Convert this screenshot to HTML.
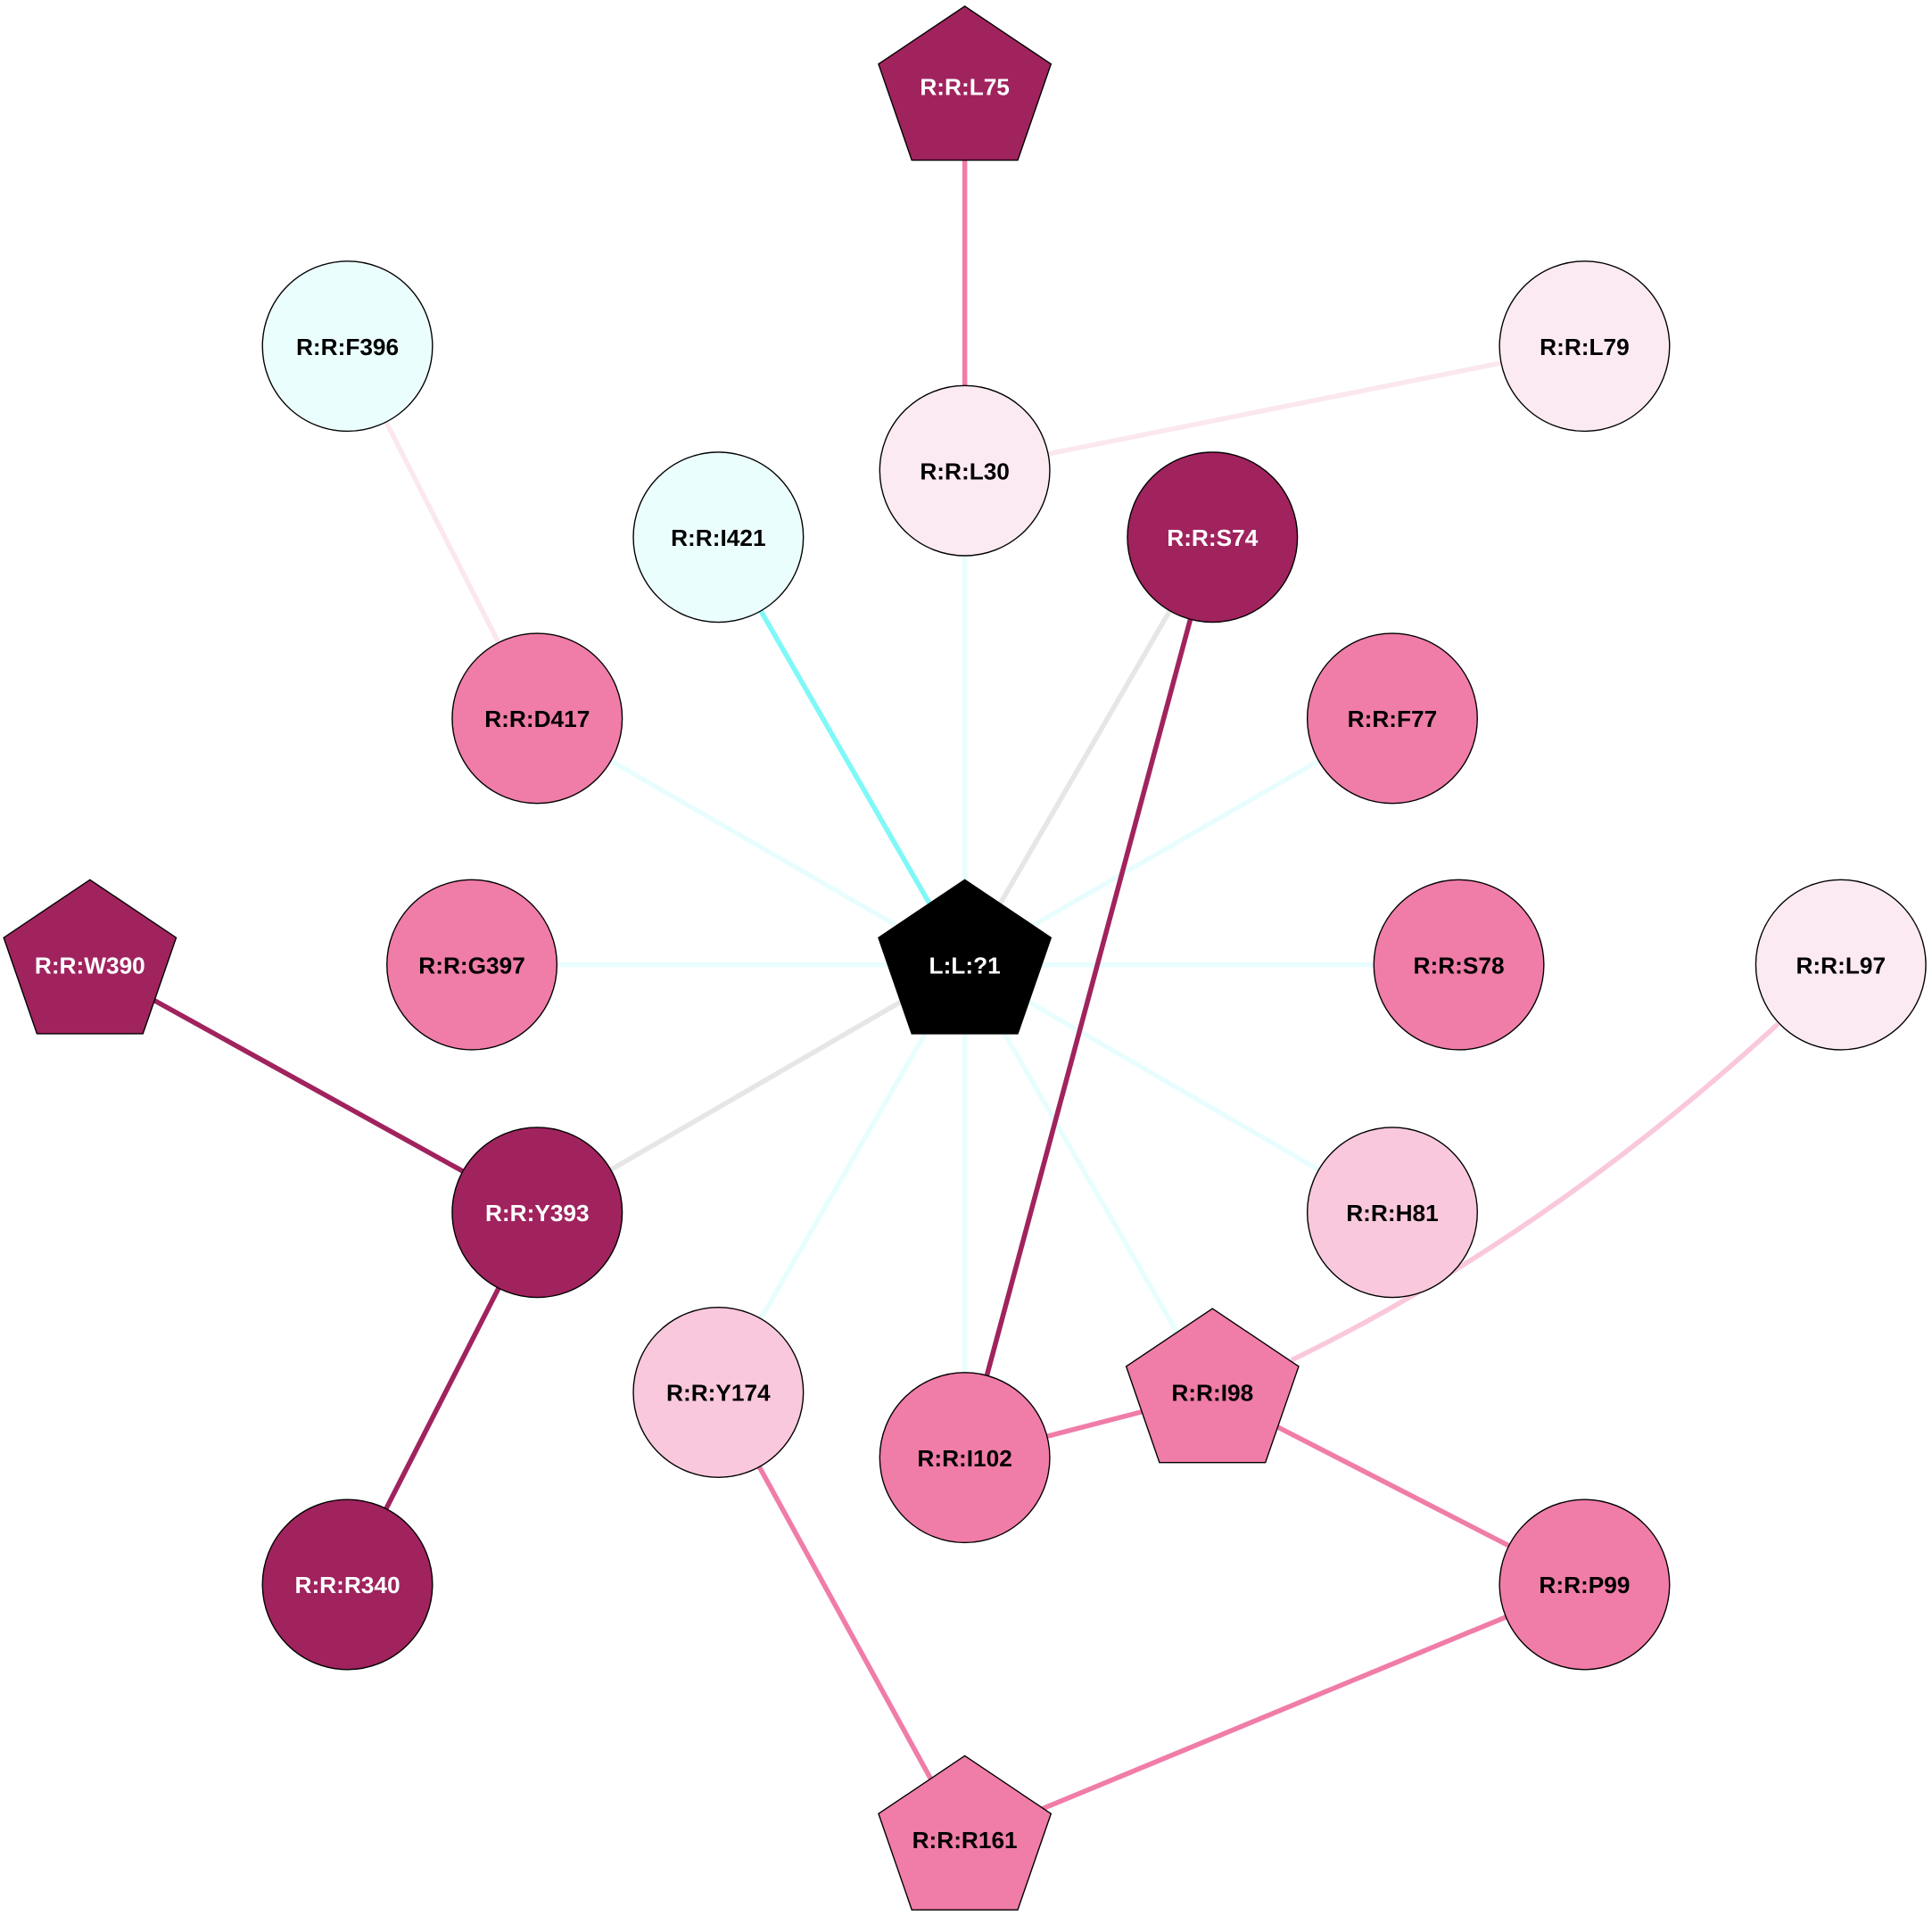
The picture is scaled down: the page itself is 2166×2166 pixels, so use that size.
<!DOCTYPE html>
<html><head><style>html,body{margin:0;padding:0;background:#fff}svg{display:block}</style></head>
<body>
<svg width="2166" height="2166" viewBox="0 0 1568 1568" xmlns="http://www.w3.org/2000/svg">
<defs>
<polygon id="pg" points="0,-69 70,-22 43,56 -43,56 -70,-22"/>
</defs>
<g fill="none" stroke-width="4">
<line x1="783" y1="74" x2="783" y2="382" stroke="#f07ca8"/>
<line x1="783" y1="382" x2="1286" y2="281" stroke="#fbe8ef"/>
<line x1="282" y1="281" x2="436" y2="583" stroke="#fbe8ef"/>
<line x1="783" y1="382" x2="783" y2="783" stroke="#e8fefe"/>
<line x1="436" y1="583" x2="783" y2="783" stroke="#e8fefe"/>
<line x1="1130" y1="583" x2="783" y2="783" stroke="#e8fefe"/>
<line x1="383" y1="783" x2="783" y2="783" stroke="#e8fefe"/>
<line x1="1184" y1="783" x2="783" y2="783" stroke="#e8fefe"/>
<line x1="1130" y1="984" x2="783" y2="783" stroke="#e8fefe"/>
<line x1="583" y1="1130" x2="783" y2="783" stroke="#e8fefe"/>
<line x1="783" y1="1183" x2="783" y2="783" stroke="#e8fefe"/>
<line x1="984" y1="1131" x2="783" y2="783" stroke="#e8fefe"/>
<line x1="583" y1="436" x2="783" y2="783" stroke="#7ff8f8"/>
<line x1="984" y1="436" x2="783" y2="783" stroke="#e6e6e6"/>
<line x1="436" y1="984" x2="783" y2="783" stroke="#e6e6e6"/>
<line x1="984" y1="436" x2="783" y2="1183" stroke="#a0235e"/>
<line x1="73" y1="783" x2="436" y2="984" stroke="#a0235e"/>
<line x1="436" y1="984" x2="282" y2="1286" stroke="#a0235e"/>
<path d="M1443,831 Q1254,1004 1048,1104" stroke="#f9c8dc"/>
<line x1="783" y1="1183" x2="984" y2="1131" stroke="#f07ca8"/>
<line x1="984" y1="1131" x2="1286" y2="1286" stroke="#f07ca8"/>
<line x1="1286" y1="1286" x2="783" y2="1494" stroke="#f07ca8"/>
<line x1="583" y1="1130" x2="783" y2="1494" stroke="#f07ca8"/>
</g>
<g stroke="#000" stroke-width="1">
<use href="#pg" x="783" y="74" fill="#a0235e"/>
<circle cx="783" cy="382" r="69" fill="#fbeaf2"/>
<circle cx="1286" cy="281" r="69" fill="#fbeaf2"/>
<circle cx="282" cy="281" r="69" fill="#ebfefe"/>
<circle cx="583" cy="436" r="69" fill="#ebfefe"/>
<circle cx="984" cy="436" r="69" fill="#a0235e"/>
<circle cx="436" cy="583" r="69" fill="#f07ca8"/>
<circle cx="1130" cy="583" r="69" fill="#f07ca8"/>
<use href="#pg" x="73" y="783" fill="#a0235e"/>
<circle cx="383" cy="783" r="69" fill="#f07ca8"/>
<use href="#pg" x="783" y="783" fill="#000"/>
<circle cx="1184" cy="783" r="69" fill="#f07ca8"/>
<circle cx="1494" cy="783" r="69" fill="#fbeaf2"/>
<circle cx="436" cy="984" r="69" fill="#a0235e"/>
<circle cx="1130" cy="984" r="69" fill="#f9c8dc"/>
<circle cx="583" cy="1130" r="69" fill="#f9c8dc"/>
<circle cx="783" cy="1183" r="69" fill="#f07ca8"/>
<use href="#pg" x="984" y="1131" fill="#f07ca8"/>
<circle cx="282" cy="1286" r="69" fill="#a0235e"/>
<circle cx="1286" cy="1286" r="69" fill="#f07ca8"/>
<use href="#pg" x="783" y="1494" fill="#f07ca8"/>
</g>
<g font-family="Liberation Sans, sans-serif" font-weight="bold" font-size="19" text-anchor="middle">
<text x="783" y="77" fill="#fff">R:R:L75</text>
<text x="783" y="389">R:R:L30</text>
<text x="1286" y="288">R:R:L79</text>
<text x="282" y="288">R:R:F396</text>
<text x="583" y="443">R:R:I421</text>
<text x="984" y="443" fill="#fff">R:R:S74</text>
<text x="436" y="590">R:R:D417</text>
<text x="1130" y="590">R:R:F77</text>
<text x="73" y="790" fill="#fff">R:R:W390</text>
<text x="383" y="790">R:R:G397</text>
<text x="783" y="790" fill="#fff">L:L:?1</text>
<text x="1184" y="790">R:R:S78</text>
<text x="1494" y="790">R:R:L97</text>
<text x="436" y="991" fill="#fff">R:R:Y393</text>
<text x="1130" y="991">R:R:H81</text>
<text x="583" y="1137">R:R:Y174</text>
<text x="783" y="1190">R:R:I102</text>
<text x="984" y="1137">R:R:I98</text>
<text x="282" y="1293" fill="#fff">R:R:R340</text>
<text x="1286" y="1293">R:R:P99</text>
<text x="783" y="1500">R:R:R161</text>
</g>
</svg>
</body></html>
